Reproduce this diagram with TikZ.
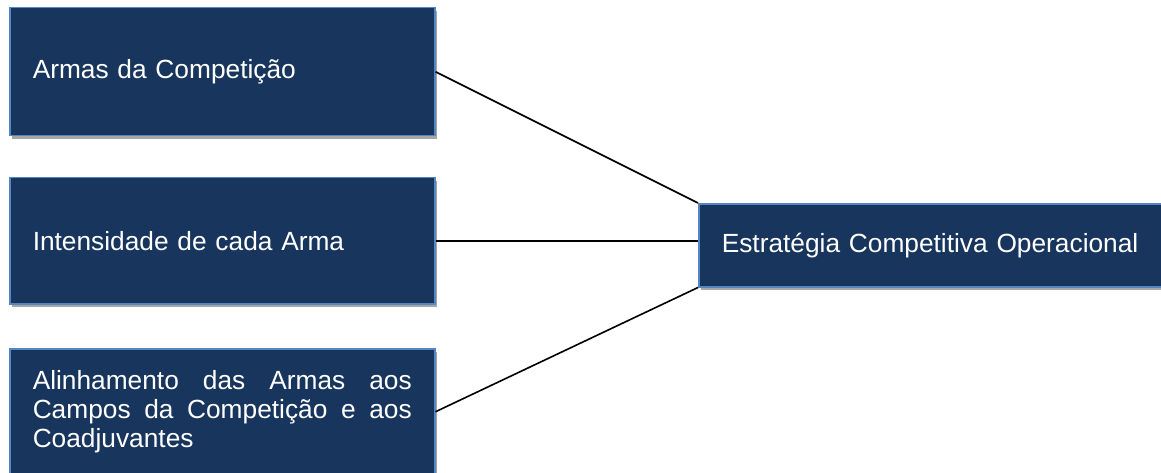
\documentclass[tikz,border=0pt]{standalone}
\usepackage{fontspec}
\setmainfont{Liberation Sans}
\usetikzlibrary{shadows}
\definecolor{boxfill}{RGB}{24,54,93}
\definecolor{boxline}{RGB}{84,134,194}
\definecolor{shadowgray}{RGB}{166,166,166}
\tikzset{
  box/.style={draw=boxline, line width=1.5pt, fill=boxfill, text=white,
    anchor=north west, inner xsep=23pt, inner ysep=0pt,
    font=\fontsize{26.3}{29}\selectfont,
    drop shadow={shadow xshift=2.5pt, shadow yshift=-3.5pt, fill=shadowgray, opacity=1}},
  conn/.style={draw=black, line width=1.6pt}
}
\begin{document}
\begin{tikzpicture}[x=1pt,y=-1pt]
\useasboundingbox (0,0) rectangle (1161,473);
\node[box, minimum width=425pt, minimum height=128pt, text width=379pt, align=left] (a) at (9,7) {Armas da Competição};
\node[box, minimum width=425pt, minimum height=126pt, text width=379pt, align=left] (b) at (9,177) {Intensidade de cada Arma};
\node[box, minimum width=425pt, minimum height=126pt, text width=379pt, align=justify] (c) at (9,348) {Alinhamento das Armas aos\linebreak Campos da Competição e aos\linebreak Coadjuvantes};
\node[box, minimum width=472pt, minimum height=83pt, text width=426pt, inner xsep=22pt, align=left] (d) at (698,203) {Estratégia Competitiva Operacional};
\draw[conn] (a.east) -- (d.north west);
\draw[conn] (b.east) -- (b.east -| d.west);
\draw[conn] (c.east) -- (d.south west);
\end{tikzpicture}
\end{document}
